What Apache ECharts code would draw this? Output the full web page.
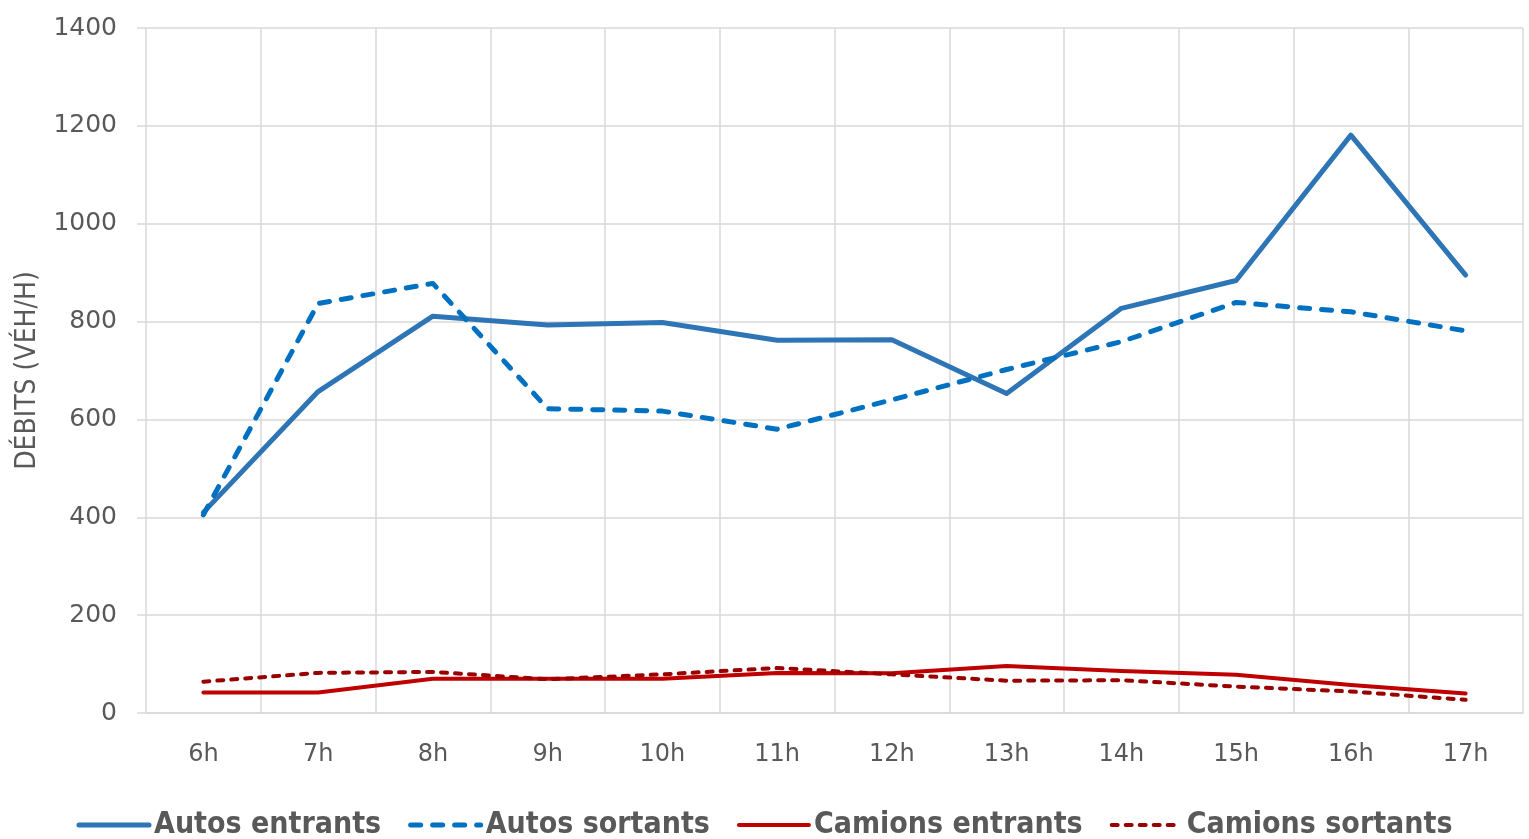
<!DOCTYPE html>
<html>
<head>
<meta charset="utf-8">
<script src="https://cdn.jsdelivr.net/npm/echarts@6/dist/echarts.min.js"></script>
<style>
  * { margin: 0; padding: 0; }
  html, body { width: 1529px; height: 839px; background: #fff; overflow: hidden; }
  #chart { width: 1529px; height: 839px; }
</style>
</head>
<body>
<div id="chart"></div>
<script>
const hours = ['6h', '7h', '8h', '9h', '10h', '11h', '12h', '13h', '14h', '15h', '16h', '17h'];
const autosEntrants = [410, 657, 811, 793, 798, 762, 763, 653, 827, 884, 1181, 895];
const autosSortants = [405, 837, 878, 622, 617, 580, 640, 702, 759, 839, 820, 781];
const camionsEntrants = [42, 42, 70, 70, 70, 82, 81, 96, 86, 78, 57, 40];
const camionsSortants = [64, 82, 84, 69, 79, 92, 79, 66, 67, 54, 44, 27];

const grey = '#595959';
const gridColor = '#d9d9d9';
const narrow = '"Liberation Sans Narrow", "DejaVu Sans Condensed", sans-serif';

const styles = {
    'Autos entrants': { color: '#2E75B6', width: 5, type: 'solid' },
    'Autos sortants': { color: '#0070C0', width: 5, type: [10, 12] },
    'Camions entrants': { color: '#C00000', width: 4, type: 'solid' },
    'Camions sortants': { color: '#990000', width: 4, type: [6, 8] }
};

var chart = echarts.init(document.getElementById('chart'));

function lineSeries(name, data) {
    const s = styles[name];
    return {
        name: name,
        type: 'line',
        data: data,
        symbol: 'none',
        lineStyle: {
            color: s.color,
            width: s.width,
            type: s.type,
            cap: 'round',
            join: 'round'
        },
        itemStyle: { color: s.color }
    };
}

function legendItem(name) {
    const s = styles[name];
    return {
        name: name,
        itemStyle: { opacity: 0 },
        lineStyle: { color: s.color, width: s.width, type: s.type, cap: 'round' }
    };
}

const option = {
    animation: false,
    grid: {
        left: 146,
        right: 6,
        top: 28,
        bottom: 126
    },
    legend: {
        bottom: -6,
        left: 'center',
        itemWidth: 70,
        itemHeight: 14,
        itemGap: 27,
        textStyle: {
            color: grey,
            fontSize: 30,
            fontWeight: 'bold',
            fontFamily: narrow
        },
        data: Object.keys(styles).map(legendItem)
    },
    xAxis: {
        type: 'category',
        data: hours,
        boundaryGap: true,
        axisLine: { lineStyle: { color: gridColor, width: 1.5 } },
        axisTick: { show: false },
        splitLine: { show: true, lineStyle: { color: gridColor, width: 1.5 } },
        axisLabel: {
            color: grey,
            fontSize: 24,
            margin: 30,
            fontFamily: '"DejaVu Sans", sans-serif'
        }
    },
    yAxis: {
        type: 'value',
        min: 0,
        max: 1400,
        interval: 200,
        name: 'DÉBITS (VÉH/H)',
        nameLocation: 'middle',
        nameGap: 104,
        nameTextStyle: {
            color: grey,
            fontSize: 28,
            fontFamily: narrow
        },
        axisLine: { show: false },
        axisTick: { show: true, length: 9, lineStyle: { color: gridColor, width: 1.5 } },
        splitLine: { lineStyle: { color: gridColor, width: 1.5 } },
        axisLabel: {
            color: grey,
            fontSize: 25,
            margin: 29,
            fontFamily: '"DejaVu Sans", sans-serif',
            formatter: function (v) { return String(v); }
        }
    },
    series: [
        lineSeries('Autos entrants', autosEntrants),
        lineSeries('Autos sortants', autosSortants),
        lineSeries('Camions entrants', camionsEntrants),
        lineSeries('Camions sortants', camionsSortants)
    ]
};

chart.setOption(option);
window.addEventListener('resize', function () {
    chart.resize();
});
</script>
</body>
</html>
